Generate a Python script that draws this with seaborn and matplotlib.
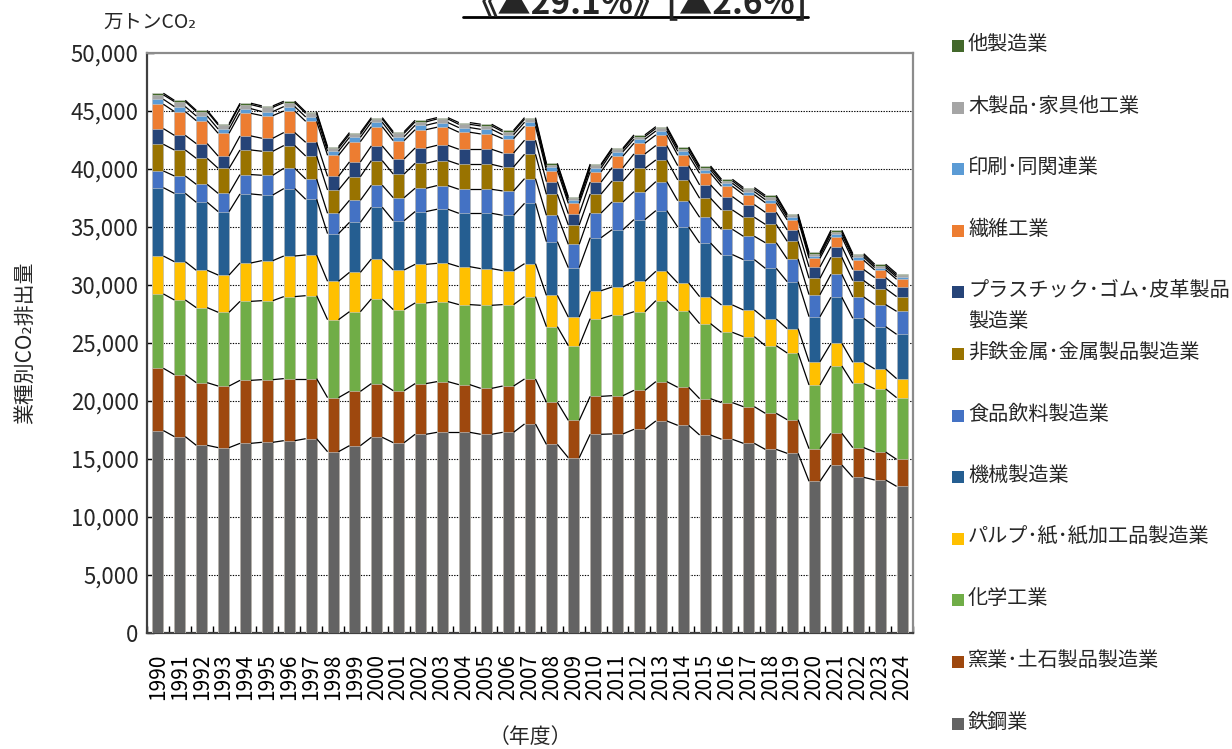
import numpy as np
import pandas as pd
import matplotlib
matplotlib.use("Agg")
import matplotlib.pyplot as plt
from matplotlib.patches import Rectangle
from matplotlib.lines import Line2D
import seaborn as sns

years = list(range(1990, 2025))

# bottom -> top order
categories = ["鉄鋼業", "窯業･土石製品製造業", "化学工業", "パルプ･紙･紙加工品製造業",
              "機械製造業", "食品飲料製造業", "非鉄金属･金属製品製造業",
              "プラスチック･ゴム･皮革製品\n製造業", "繊維工業", "印刷･同関連業",
              "木製品･家具他工業", "他製造業"]
colors = ["#636363", "#9E480E", "#70AD47", "#FFC000", "#255E91", "#4472C4",
          "#997300", "#264478", "#ED7D31", "#5B9BD5", "#A5A5A5", "#43682B"]

steel = [17450, 16930, 16180, 15980, 16350, 16440, 16580, 16750, 15630, 16150, 16870, 16410,
         17130, 17300, 17300, 17130, 17300, 18020, 16260, 15110, 17130, 17160, 17560, 18280,
         17900, 17070, 16700, 16350, 15830, 15490, 13080, 14480, 13420, 13190, 12640]
ceramics = [5370, 5340, 5400, 5310, 5430, 5400, 5350, 5180, 4660, 4680, 4630, 4480,
            4370, 4370, 4110, 3960, 3990, 3880, 3630, 3220, 3270, 3300, 3360, 3390,
            3280, 3130, 3160, 3160, 3110, 2900, 2810, 2730, 2560, 2410, 2330]
chemical = [6410, 6440, 6470, 6360, 6810, 6810, 7070, 7150, 6720, 6870, 7300, 6990,
            6950, 6900, 6900, 7160, 7020, 7100, 6520, 6440, 6700, 6930, 6780, 6980,
            6610, 6470, 6060, 6040, 5830, 5750, 5490, 5810, 5540, 5440, 5320]
pulp = [3270, 3300, 3220, 3210, 3310, 3450, 3500, 3510, 3310, 3390, 3440, 3420,
        3330, 3300, 3270, 3160, 2930, 2840, 2700, 2470, 2410, 2440, 2620, 2530,
        2390, 2330, 2360, 2300, 2300, 2100, 2010, 1950, 1820, 1720, 1640]
machinery = [5890, 5890, 5860, 5470, 5950, 5660, 5810, 4800, 4110, 4310, 4460, 4250,
             4550, 4660, 4600, 4770, 4770, 5200, 4630, 4260, 4570, 4940, 5320, 5230,
             4820, 4620, 4340, 4340, 4370, 4050, 3880, 3970, 3790, 3650, 3820]
food = [1440, 1500, 1550, 1570, 1670, 1700, 1750, 1750, 1750, 1900, 1900, 1980,
        2010, 2040, 2070, 2070, 2100, 2130, 2270, 2010, 2130, 2390, 2410, 2500,
        2270, 2220, 2180, 2010, 2210, 1960, 1900, 1980, 1840, 1900, 1980]
nonferrous = [2300, 2240, 2240, 2160, 2120, 2070, 1960, 1980, 2010, 2040, 2120, 2040,
              2150, 2150, 2150, 2150, 2070, 2100, 1810, 1670, 1640, 1810, 2010, 1870,
              1790, 1640, 1670, 1640, 1580, 1520, 1410, 1470, 1410, 1380, 1270]
plastic = [1350, 1260, 1270, 1060, 1210, 1120, 1120, 1180, 1180, 1270, 1270, 1300,
           1320, 1320, 1300, 1300, 1200, 1210, 1090, 970, 1030, 1150, 1240, 1240,
           1230, 1150, 1150, 1090, 1040, 980, 980, 920, 950, 950, 860]
textile = [2100, 2050, 1980, 1960, 1950, 1950, 1860, 1810, 1810, 1750, 1660, 1580,
           1580, 1560, 1470, 1320, 1240, 1200, 950, 890, 890, 1000, 920, 920,
           890, 1000, 890, 860, 830, 860, 740, 800, 800, 660, 630]
printing = [430, 430, 400, 370, 400, 350, 380, 380, 350, 370, 380, 340,
            380, 400, 400, 400, 340, 350, 290, 260, 320, 380, 340, 340,
            350, 290, 260, 260, 260, 230, 230, 260, 260, 200, 200]
wood = [380, 430, 380, 350, 350, 370, 340, 310, 260, 260, 280, 290,
        290, 310, 280, 290, 260, 260, 230, 200, 230, 200, 230, 220,
        230, 200, 200, 200, 230, 170, 170, 200, 170, 140, 150]
other = [140, 110, 110, 110, 120, 120, 120, 120, 140, 150, 120, 140,
         140, 120, 150, 150, 120, 140, 110, 120, 110, 110, 150, 150,
         140, 140, 140, 150, 140, 110, 120, 150, 140, 150, 140]

series = [steel, ceramics, chemical, pulp, machinery, food, nonferrous,
          plastic, textile, printing, wood, other]

yticks = [0, 5000, 10000, 15000, 20000, 25000, 30000, 35000, 40000, 45000, 50000]

sns.set_theme(style="white")
plt.rcParams["font.family"] = ["Noto Sans CJK JP", "DejaVu Sans"]

W, H = 1232, 749
fig = plt.figure(figsize=(W / 100, H / 100), dpi=100)
ax = fig.add_axes([147 / W, 1 - 633 / H, (913 - 147) / W, (633 - 53) / H])

vals = np.array(series, dtype=float)
cum = np.cumsum(vals, axis=0)
ylabels = [str(y) for y in years]

bar_w = 0.5
# draw cumulative bars from top layer downwards
for k in range(len(series) - 1, -1, -1):
    df = pd.DataFrame({"year": ylabels, "v": cum[k]})
    sns.barplot(data=df, x="year", y="v", color=colors[k], saturation=1,
                width=bar_w, errorbar=None, ax=ax, edgecolor="#d0d0d0",
                linewidth=0.4, zorder=3)

# series lines connecting bar segments
n = len(years)
for k in range(len(series)):
    for i in range(n - 1):
        ax.plot([i + bar_w / 2, i + 1 - bar_w / 2], [cum[k][i], cum[k][i + 1]],
                color="black", lw=0.9, zorder=4, solid_capstyle="butt")

ax.set_xlim(-0.5, n - 0.5)
ax.set_ylim(0, 50000)
ax.set_yticks(yticks)
ax.set_yticklabels([f"{v:,}" for v in yticks], fontsize=16)
ax.set_xticks(range(n))
ax.set_xticklabels(ylabels, rotation=90, fontsize=15)
ax.set_xticks(np.arange(-0.5, n, 1.0), minor=True)
ax.tick_params(axis="x", which="major", length=0, pad=15, colors="black")
ax.tick_params(axis="x", which="minor", direction="in", length=5, width=1, color="black", bottom=True)
ax.tick_params(axis="y", which="major", direction="in", length=5, width=1, color="black", left=True, pad=6)
ax.set_xlabel("")
ax.set_ylabel("")

for y in yticks[1:-1]:
    ax.axhline(y, color="black", lw=0.8, ls=(0, (1.2, 1.2)), zorder=1)

for s in ["left", "bottom"]:
    ax.spines[s].set_color("#404040")
    ax.spines[s].set_linewidth(1.6)
for s in ["top", "right"]:
    ax.spines[s].set_color("#8c8c8c")
    ax.spines[s].set_linewidth(1.6)
    ax.spines[s].set_visible(True)

# texts
fig.text(103 / W, 1 - 22 / H, "万トンCO₂", fontsize=14, va="center", ha="left")
fig.text(25 / W, 1 - 343 / H, "業種別CO₂排出量", fontsize=15, rotation=90, va="center", ha="center")
fig.text(530 / W, 1 - 737 / H, "（年度）", fontsize=15, va="center", ha="center")
fig.text(636 / W, 1 - 14 / H, "《▲29.1%》[▲2.6%]", fontsize=24, fontweight="bold",
         va="baseline", ha="center")
fig.add_artist(Line2D([463 / W, 808 / W], [1 - 17 / H, 1 - 17 / H], color="black", lw=2,
                      transform=fig.transFigure))

# legend (top to bottom = reverse stacking order)
y0, step = 46, 61.6
for j, k in enumerate(range(len(series) - 1, -1, -1)):
    yc = y0 + j * step
    fig.add_artist(Rectangle((952 / W, 1 - (yc + 6) / H), 12 / W, 12 / H,
                             facecolor=colors[k], edgecolor="none", transform=fig.transFigure))
    fig.text(968 / W, 1 - (yc - 12) / H, categories[k], fontsize=14.5, va="top", ha="left",
             linespacing=1.6)

fig.savefig("out.png", dpi=100)
